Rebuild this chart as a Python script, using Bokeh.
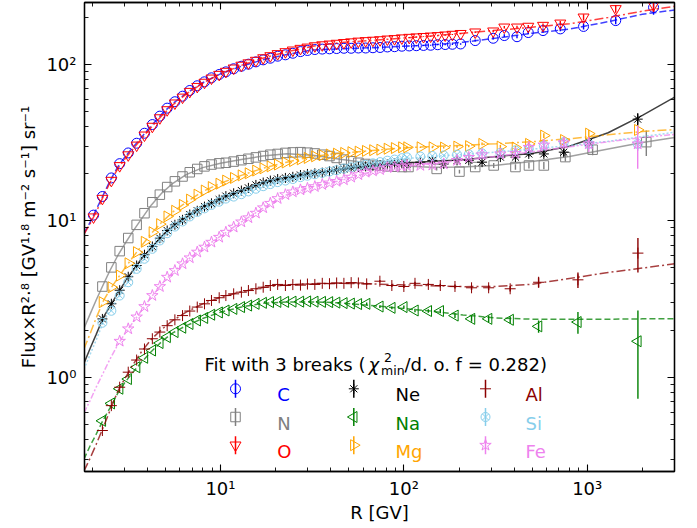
import math
from bokeh.plotting import figure
from bokeh.models import LogAxis, FixedTicker, CustomJSTickFormatter, Label
from bokeh.embed import file_html
from bokeh.resources import INLINE

# ---------------- data ----------------
R_LOW = [2.03, 2.27, 2.54, 2.82, 3.14, 3.49, 3.85, 4.25, 4.67, 5.12, 5.64, 6.21, 6.80, 7.47,
         8.18, 8.93, 9.84, 10.7, 11.8, 13.0, 14.2, 15.6, 17.1, 18.7, 20.5, 22.6, 24.8, 27.3,
         29.8, 32.7, 35.9, 39.3, 43.0, 47.1, 51.6, 56.5, 61.9, 67.8, 74.2, 81.3, 89.0, 97.5]

C_LOW = [10.87, 14.29, 18.79, 23.18, 27.14, 31.31, 36.26, 41.2, 46.64, 52.46, 57.66, 62.55, 68.04,
         72.93, 77.3, 81.97, 86.12, 89.5, 93.66, 97.22, 100.2, 103.65, 106.8, 109.4, 112.7, 115.0,
         117.7, 120.6, 122.6, 124.3, 125.1, 125.6, 126.1, 126.6, 126.6, 127.1, 127.1, 127.6, 128.1,
         129.1, 129.6, 130.5]
O_LOW = [10.56, 13.88, 18.09, 22.47, 26.33, 30.39, 35.24, 40.08, 45.43, 51.14, 56.46, 61.55, 66.95,
         72.03, 76.61, 81.47, 86.02, 89.99, 94.45, 98.42, 101.9, 105.8, 109.8, 113.2, 116.7, 120.1,
         123.1, 126.1, 128.5, 131.0, 132.9, 134.4, 135.9, 137.4, 138.8, 140.3, 141.3, 142.2, 143.2,
         144.7, 145.6, 147.1]
N_LOW = [None, 3.80, 5.04, 6.40, 7.76, 9.42, 11.18, 13.14, 14.69, 16.43, 17.87, 19.19, 20.42, 21.44,
         22.27, 22.88, 23.29, 23.49, 23.9, 24.4, 24.91, 25.42, 25.93, 26.44, 26.74, 27.15, 27.35,
         27.45, 27.25, 26.94, 26.44, 25.93, 25.22, 24.61, 24.0, 23.49, 23.08, 22.78, 22.47, 22.27,
         22.16, 22.06]
NE_LOW = [None, 2.36, 2.95, 3.60, 4.39, 5.18, 6.07, 6.85, 7.74, 8.67, 9.43, 10.14, 10.97, 11.59,
          12.32, 12.93, 13.66, 14.38, 14.99, 15.61, 16.23, 16.95, 17.56, 18.07, 18.48, 18.79, 19.1,
          19.61, 19.92, 20.12, 20.32, 20.73, 21.14, 21.44, 21.75, 22.06, 22.27, 22.47, 22.67, 22.88,
          23.19, 23.39]
MG_LOW = [None, 3.02, 3.76, 4.47, 5.35, 6.30, 7.34, 8.45, 9.52, 10.66, 11.59, 12.63, 13.66, 14.69,
          15.61, 16.43, 17.26, 18.07, 18.79, 19.51, 20.12, 20.94, 21.65, 22.27, 22.88, 23.59, 24.1,
          24.71, 25.22, 25.83, 26.24, 26.54, 26.85, 27.15, 27.45, 27.66, 27.96, 28.26, 28.47, 28.87,
          29.17, 29.48]
SI_LOW = [None, 2.23, 2.66, 3.33, 4.05, 4.93, 5.72, 6.62, 7.49, 8.33, 9.19, 9.90, 10.66, 11.39,
          12.01, 12.63, 13.25, 13.87, 14.28, 14.79, 15.41, 16.03, 16.64, 17.16, 17.67, 18.08, 18.49,
          19.01, 19.42, 19.83, 20.24, 20.65, 21.05, 21.57, 21.97, 22.38, 22.79, 23.3, 23.71, 24.22,
          24.62, 25.13]
FE_LOW = [None, None, None, 1.70, 2.04, 2.43, 2.83, 3.33, 3.80, 4.36, 4.81, 5.31, 5.80, 6.31, 6.79,
          7.30, 7.85, 8.45, 9.11, 9.84, 10.46, 11.19, 12.11, 12.94, 13.87, 14.69, 15.3, 15.76,
          16.12, 16.54, 17.05, 17.46, 17.87, 18.28, 19.0, 19.71, 20.43, 20.83, 21.24, 21.86, 22.06,
          22.37]
AL_LOW = [None, 0.457, 0.659, 0.864, 1.078, 1.289, 1.516, 1.763, 1.945, 2.137, 2.33, 2.479, 2.65,
          2.809, 2.947, 3.096, 3.223, 3.329, 3.414, 3.498, 3.583, 3.678, 3.763, 3.858, 3.921, 3.858,
          3.911, 3.88, 3.943, 3.921, 3.985, 3.964, 4.006, 3.985, 4.027, 4.006,
          None, None, None, None, None, None]
NA_LOW = [None, 0.527, 0.681, 0.845, 0.975, 1.159, 1.332, 1.483, 1.655, 1.806, 1.945, 2.073, 2.191,
          2.308, 2.394, 2.511, 2.596, 2.671, 2.735, 2.809, 2.873, 2.947, 2.99, 3.022, 3.032, 3.032,
          3.043, 3.043, 3.054, 3.043, 3.032, 3.022, 3.0, 2.979, 2.958, 2.937,
          None, None, None, None, None, None]

# high-rigidity bins
CO_TAIL_R = [107, 117, 128, 140, 153, 168, 184, 204, 245, 307, 353, 414, 477, 574, 713, 955, 1430, 2300]
C_TAIL = [131.0, 131.5, 132.0, 132.4, 133.4, 133.8, 134.3, 134.9, 141.8, 146.7, 152.7, 150.1, 159.6,
          164.3, 168.4, 174.6, 190.3, 231.2]
C_TAIL_ERR = [1, 1, 1, 1, 1.2, 1.2, 1.3, 1.5, 2, 2.5, 3, 3.5, 4, 5, 6, 8, 10, 24]
O_TAIL = [148.3, 149.3, 150.2, 151.2, 152.2, 153.6, 155.1, 157.0, 160.5, 162.9, 172.6, 172.6, 174.6,
          177.0, 183.0, 200.0, 226.3, 239.9]
O_TAIL_ERR = [1, 1, 1, 1, 1.2, 1.2, 1.3, 1.5, 2, 2.5, 3, 3.5, 4, 5, 6, 9, 13, 24]

N_TAIL_R = [106, 151, 201, 245, 309, 406, 481, 580, 760, 1070, 2100]
N_TAIL = [22.06, 21.45, 20.63, 22.06, 22.57, 22.06, 22.57, 22.57, 25.53, 28.47, 31.81]
N_TAIL_ERR = [0.4, 0.5, 0.6, 0.7, 0.8, 0.9, 1.0, 1.2, 1.6, 2.2, 5.9]

H_TAIL_R = [104, 123, 143, 165, 195, 226, 267, 336, 406, 480, 580, 745, 1020, 1885]
NE_TAIL = [23.08, 23.70, 24.32, 23.08, 24.32, 24.32, 23.70, 25.53, 25.53, 26.75, 26.75, 27.46,
           31.81, 44.62]
NE_TAIL_ERR = [0.3, 0.3, 0.4, 0.4, 0.5, 0.5, 0.6, 0.7, 0.8, 1.0, 1.2, 1.5, 2.2, 4.0]
MG_TAIL = [29.48, 29.48, 29.48, 29.37, 29.79, 29.99, 31.0, 29.79, 29.37, 31.0, 35.04, 32.82,
           36.05, 38.07]
MG_TAIL_ERR = [0.3, 0.3, 0.4, 0.4, 0.5, 0.5, 0.6, 0.7, 0.8, 1.0, 1.2, 1.5, 2.0, 2.5]
SI_TAIL = [25.44, 25.75, 25.95, 26.16, 26.46, 26.57, 26.97, 27.18, 28.2, 28.81, 30.29, 31.81,
           31.0, 31.0]
SI_TAIL_ERR = [0.3, 0.3, 0.4, 0.4, 0.5, 0.5, 0.6, 0.7, 0.8, 1.0, 1.2, 1.5, 2.0, 3.0]
FE_TAIL = [22.47, 22.58, 22.68, 23.09, 24.32, 25.42, 26.44, 26.75, 26.95, 29.48, 30.5, 31.51,
           31.0, 31.0]
FE_TAIL_ERR = [0.4, 0.4, 0.5, 0.5, 0.6, 0.7, 0.8, 1.0, 1.2, 1.5, 2.0, 2.5, 3.5, 9.5]

AN_TAIL_R = [62.7, 74, 86, 100, 115, 136, 158, 190, 234, 290, 380, 543, 890, 1890]
AL_TAIL = [3.953, 4.111, 3.858, 3.804, 3.985, 3.921, 3.858, 3.804, 3.732, 3.732, 3.678, 4.048,
           4.196, 6.215]
AL_TAIL_ERR = [0.07, 0.07, 0.08, 0.08, 0.09, 0.09, 0.1, 0.11, 0.12, 0.13, 0.15, 0.3, 0.47, 1.55]
NA_TAIL = [2.947, 2.831, 2.778, 2.809, 2.671, 2.65, 2.65, 2.479, 2.362, 2.362, 2.33, 2.116,
           2.255, 1.699]
NA_TAIL_ERR = [0.06, 0.06, 0.06, 0.07, 0.07, 0.07, 0.08, 0.09, 0.1, 0.11, 0.12, 0.19, 0.36, 0.97]

# fitted curves (3-break fit)
FIT_R = [1.8, 1.95, 2.1, 2.3, 2.5, 2.75, 3.0, 3.3, 3.7, 4.2, 4.8, 5.5, 6.5, 8, 10, 13, 17, 23,
         32, 45, 65, 95, 140, 210, 320, 500, 800, 1300, 2000, 3000]
C_FIT = [8.29, 9.83, 11.8, 14.73, 18.07, 22.06, 25.42, 29.07, 34.13, 40.59, 48.24, 56.26, 65.24,
         76.2, 86.84, 97.23, 106.8, 115.5, 123.6, 125.6, 127.4, 130.0, 132.95, 138.3, 147.1, 158.0,
         167.8, 187.3, 208.8, 222.4]
O_FIT = [8.18, 9.63, 11.39, 14.38, 17.56, 21.46, 24.7, 28.36, 33.32, 39.68, 47.13, 55.16, 64.45,
         75.9, 87.04, 98.42, 109.3, 120.2, 130.5, 137.8, 141.8, 146.7, 151.6, 158.0, 164.9, 172.6,
         181.4, 199.0, 218.6, 235.0]
N_FIT = [2.05, 2.55, 3.12, 3.93, 4.83, 5.98, 7.08, 8.43, 10.25, 12.63, 15.09, 17.36, 19.71, 21.86,
         23.29, 24.61, 25.93, 26.84, 26.23, 24.71, 23.29, 22.47, 21.96, 22.06, 22.67, 23.9, 25.73,
         28.77, 31.61, 34.04]
NE_FIT = [1.226, 1.537, 1.881, 2.426, 2.852, 3.436, 4.038, 4.744, 5.70, 6.747, 8.006, 9.221, 10.55,
          12.11, 13.76, 15.61, 17.56, 18.9, 20.12, 21.34, 22.37, 23.29, 23.9, 24.51, 25.74, 26.95,
          29.98, 36.55, 47.13, 61.66]
MG_FIT = [1.516, 1.913, 2.394, 3.085, 3.647, 4.29, 4.954, 5.782, 6.892, 8.319, 9.845, 11.39, 13.14,
          15.4, 17.36, 19.51, 21.65, 23.7, 25.83, 27.04, 28.06, 29.17, 29.79, 30.39, 31.1, 32.02,
          33.44, 35.47, 37.18, 38.29]
SI_FIT = [1.127, 1.408, 1.731, 2.266, 2.66, 3.191, 3.795, 4.46, 5.405, 6.505, 7.727, 9.06, 10.35,
          11.9, 13.35, 14.89, 16.64, 18.18, 19.71, 21.44, 23.09, 24.82, 25.74, 26.55, 27.47, 28.69,
          30.29, 32.21, 34.54, 36.78]
FE_FIT = [0.593, 0.714, 0.866, 1.073, 1.311, 1.612, 1.891, 2.212, 2.66, 3.266, 3.964, 4.693, 5.554,
          6.674, 7.969, 9.84, 12.01, 14.69, 16.54, 18.07, 20.42, 22.06, 23.19, 24.41, 25.83, 27.56,
          29.69, 32.03, 34.04, 35.66]
AL_FIT = [0.251, 0.306, 0.373, 0.483, 0.615, 0.812, 0.975, 1.181, 1.451, 1.752, 2.031, 2.308, 2.607,
          2.947, 3.244, 3.52, 3.753, 3.901, 3.964, 3.985, 3.953, 3.901, 3.847, 3.794, 3.804, 3.932,
          4.28, 4.67, 4.988, 5.314]
NA_FIT = [0.30, 0.367, 0.433, 0.538, 0.637, 0.79, 0.921, 1.062, 1.246, 1.462, 1.699, 1.924, 2.137,
          2.373, 2.607, 2.809, 2.969, 3.032, 3.032, 2.99, 2.883, 2.766, 2.65, 2.501, 2.394, 2.351,
          2.351, 2.351, 2.362, 2.362]

X_TICKS = [10, 100, 1000]
Y_TICKS = [1, 10, 100]
LEGEND_TITLE = ["Fit with 3 breaks (", "\u03c7", "2", "min", "/d. o. f = 0.282)"]
X_LABEL = "R [GV]"
Y_LABEL = "Flux\u00d7R\u00b2\u00b7\u2078 [GV\u00b9\u00b7\u2078 m\u207b\u00b2 s\u207b\u00b9] sr\u207b\u00b9"

# ---------------- styles ----------------
ELEMS = [
    dict(name="C", color="#0000ff", marker="circle", size=10, angle=0.0, low=C_LOW,
         tr=CO_TAIL_R, tv=C_TAIL, te=C_TAIL_ERR, fit=C_FIT, dash="7 3"),
    dict(name="N", color="#808080", marker="square", size=9.5, angle=0.0, low=N_LOW,
         tr=N_TAIL_R, tv=N_TAIL, te=N_TAIL_ERR, fit=N_FIT, dash="solid"),
    dict(name="O", color="#ff0000", marker="inverted_triangle", size=11, angle=0.0, low=O_LOW,
         tr=CO_TAIL_R, tv=O_TAIL, te=O_TAIL_ERR, fit=O_FIT, dash="9 3 2 3"),
    dict(name="Ne", color="#000000", marker="asterisk", size=10, angle=0.0, low=NE_LOW,
         tr=H_TAIL_R, tv=NE_TAIL, te=NE_TAIL_ERR, fit=NE_FIT, dash="solid"),
    dict(name="Na", color="#008000", marker="triangle", size=11, angle=math.pi / 2, low=NA_LOW,
         tr=AN_TAIL_R, tv=NA_TAIL, te=NA_TAIL_ERR, fit=NA_FIT, dash="6 3"),
    dict(name="Mg", color="#ffa500", marker="triangle", size=11, angle=-math.pi / 2, low=MG_LOW,
         tr=H_TAIL_R, tv=MG_TAIL, te=MG_TAIL_ERR, fit=MG_FIT, dash="9 3 2 3"),
    dict(name="Al", color="#8b0000", marker="cross", size=11, angle=0.0, low=AL_LOW,
         tr=AN_TAIL_R, tv=AL_TAIL, te=AL_TAIL_ERR, fit=AL_FIT, dash="9 3 2 3"),
    dict(name="Si", color="#87ceeb", marker="circle_x", size=9, angle=0.0, low=SI_LOW,
         tr=H_TAIL_R, tv=SI_TAIL, te=SI_TAIL_ERR, fit=SI_FIT, dash="2 2"),
    dict(name="Fe", color="#ee82ee", marker="star", size=12, angle=0.0, low=FE_LOW,
         tr=H_TAIL_R, tv=FE_TAIL, te=FE_TAIL_ERR, fit=FE_FIT, dash="6 2 2 2 2 2"),
]
LEG_COLS = [["C", "N", "O"], ["Ne", "Na", "Mg"], ["Al", "Si", "Fe"]]

FONT = "DejaVu Sans"
# frame of the reference: x 84..674 px, y 2..471 px
FR_L, FR_R, FR_T, FR_B = 84.0, 674.0, 2.0, 471.0
X_LO, X_HI = 1.813, 2992.0
Y_LO, Y_HI = 0.250, 248.3
LX0, LX1 = math.log10(X_LO), math.log10(X_HI)
LY0, LY1 = math.log10(Y_LO), math.log10(Y_HI)


def ax(px):
    """pixel column of the reference frame -> data x"""
    return 10 ** (LX0 + (px - FR_L) / (FR_R - FR_L) * (LX1 - LX0))


def ay(py):
    """pixel row of the reference frame -> data y"""
    return 10 ** (LY1 - (py - FR_T) / (FR_B - FR_T) * (LY1 - LY0))


p = figure(width=697, height=528, x_axis_type="log", y_axis_type="log",
           x_range=(X_LO, X_HI), y_range=(Y_LO, Y_HI),
           output_backend="svg", toolbar_location=None,
           min_border_left=84, min_border_right=23, min_border_top=2, min_border_bottom=57)
p.xgrid.visible = False
p.ygrid.visible = False
p.outline_line_color = "black"
p.outline_line_width = 1.3
p.background_fill_color = "white"
p.border_fill_color = "white"

x_minor = [m * 10 ** k for k in range(0, 4) for m in range(2, 10) if X_LO < m * 10 ** k < X_HI]
y_minor = [m * 10 ** k for k in range(-1, 3) for m in range(2, 10) if Y_LO < m * 10 ** k < Y_HI]
xt = FixedTicker(ticks=X_TICKS, minor_ticks=x_minor)
yt = FixedTicker(ticks=Y_TICKS, minor_ticks=y_minor)
sup_fmt = CustomJSTickFormatter(code=r"""
const sup = {"0":"\u2070","1":"\u00b9","2":"\u00b2","3":"\u00b3","-":"\u207b"};
const e = Math.round(Math.log10(tick));
return "10" + String(e).split("").map(c => sup[c]).join("");
""")


def style_axis(a, labels=True):
    a.axis_line_color = "black"
    a.axis_line_width = 1.3
    a.major_tick_in = 7
    a.major_tick_out = 0
    a.minor_tick_in = 4
    a.minor_tick_out = 0
    a.major_tick_line_color = "black"
    a.minor_tick_line_color = "black"
    a.major_tick_line_width = 1.1
    a.minor_tick_line_width = 0.9
    if labels:
        a.major_label_text_font = FONT
        a.major_label_text_font_size = "18px"
        a.major_label_text_color = "black"
        a.axis_label_text_font = FONT
        a.axis_label_text_font_size = "18px"
        a.axis_label_text_font_style = "normal"
        a.axis_label_text_color = "black"
    else:
        a.major_label_text_font_size = "0px"
        a.major_label_standoff = 0


p.xaxis.ticker = xt
p.yaxis.ticker = yt
p.xaxis.formatter = sup_fmt
p.yaxis.formatter = sup_fmt
style_axis(p.xaxis[0])
style_axis(p.yaxis[0])
p.xaxis.major_label_standoff = 6
p.yaxis.major_label_standoff = 8
p.xaxis.axis_label = X_LABEL
p.yaxis.axis_label = Y_LABEL
p.xaxis.axis_label_standoff = 0
p.yaxis.axis_label_standoff = 4

top = LogAxis(ticker=xt, formatter=CustomJSTickFormatter(code="return ''"))
right = LogAxis(ticker=yt, formatter=CustomJSTickFormatter(code="return ''"))
style_axis(top, labels=False)
style_axis(right, labels=False)
p.add_layout(top, "above")
p.add_layout(right, "right")

# ---------------- data series ----------------
for e in ELEMS:
    xs, ys = [], []
    for r, v in zip(R_LOW, e["low"]):
        if v is not None:
            xs.append(r)
            ys.append(v)
    xs += e["tr"]
    ys += e["tv"]
    p.line(FIT_R, e["fit"], line_color=e["color"], line_width=1.5, line_alpha=0.75,
           line_dash=e["dash"])
    lo = [v - d for v, d in zip(e["tv"], e["te"])]
    hi = [v + d for v, d in zip(e["tv"], e["te"])]
    p.segment(x0=e["tr"], y0=lo, x1=e["tr"], y1=hi, line_color=e["color"], line_width=1.4)
    p.scatter(xs, ys, marker=e["marker"], size=e["size"], angle=e["angle"],
              fill_color=None, line_color=e["color"], line_width=1.0)

# ---------------- legend (drawn by hand) ----------------
by_name = {e["name"]: e for e in ELEMS}
col_marker_px = [235, 353.3, 485]
col_text_px = [276.7, 395, 525]
row_mid_px = [388.3, 416.5, 444.7]
row_base_px = [394.3, 422.7, 450.9]
for ci, col in enumerate(LEG_COLS):
    for ri, name in enumerate(col):
        e = by_name[name]
        mx = ax(col_marker_px[ci])
        p.segment(x0=[mx], y0=[ay(row_mid_px[ri] + 9)], x1=[mx], y1=[ay(row_mid_px[ri] - 9)],
                  line_color=e["color"], line_width=1.5)
        p.scatter([mx], [ay(row_mid_px[ri])], marker=e["marker"], size=e["size"],
                  angle=e["angle"], fill_color=None, line_color=e["color"], line_width=1.0)
        p.add_layout(Label(x=ax(col_text_px[ci]), y=ay(row_base_px[ri]), text=name,
                           text_color=e["color"], text_font=FONT, text_font_size="18px",
                           text_baseline="alphabetic", text_align="left"))

title_parts = [
    (204.0, 364.0, LEGEND_TITLE[0], "18px", "normal"),
    (368.0, 364.0, LEGEND_TITLE[1], "18px", "italic"),
    (383.5, 356.5, LEGEND_TITLE[2], "12.5px", "normal"),
    (380.5, 369.5, LEGEND_TITLE[3], "12.5px", "normal"),
    (404.0, 364.0, LEGEND_TITLE[4], "18px", "normal"),
]
for px, py, txt, fs, st in title_parts:
    p.add_layout(Label(x=ax(px), y=ay(py), text=txt, text_color="black", text_font=FONT,
                       text_font_size=fs, text_font_style=st, text_baseline="alphabetic",
                       text_align="left"))

open("out.html", "w", encoding="utf-8").write(file_html(p, INLINE))
